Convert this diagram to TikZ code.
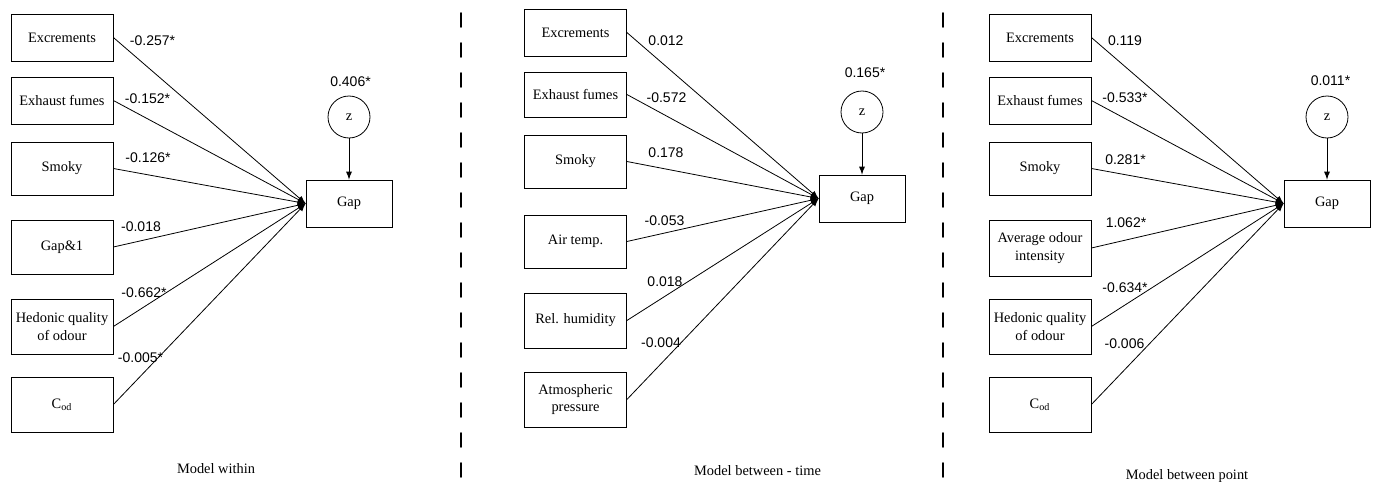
\documentclass[tikz,border=0pt]{standalone}
\usepackage{fontspec}
\setmainfont{Liberation Serif}
\newfontfamily\coeffont{Liberation Sans}

\begin{document}
\begin{tikzpicture}
			[x=0.5pt,y=-0.5pt,line cap=round,
			%Styles
			var/.style={draw,thin,rectangle,minimum width=51pt,minimum height=#1,inner sep=1pt,align=center,font=\fontsize{7.2}{8.6}\selectfont},
			var/.default=23.5pt,
			gapbox/.style={draw,thin,rectangle,minimum width=43pt,minimum height=23.5pt,font=\fontsize{7.2}{8.6}\selectfont},
			err/.style={draw,thin,circle,minimum size=21pt,inner sep=0pt,font=\fontsize{7.2}{8.6}\selectfont},
			effect/.style={thin,-latex},
			coef/.style={inner sep=0pt,font=\coeffont\fontsize{7}{8}\selectfont},
			caption/.style={inner sep=0pt,font=\fontsize{7.2}{8.6}\selectfont},
			divider/.style={line width=0.8pt,dash pattern=on 7pt off 8pt}
			]
			
			\useasboundingbox (0,0) rectangle (1378,482);
			
			%Model within
			\node[var] (exc1) at (62,37.5) {Excrements};
			\node[var] (exh1) at (62,100.5) {Exhaust fumes};
			\node[var=26.5pt] (smo1) at (62,168.5) {Smoky};
			\node[var=27pt] (gpl1) at (62,247) {Gap\&1};
			\node[var=27.5pt] (hed1) at (62,326.5) {Hedonic quality\\of odour};
			\node[var=27.5pt] (cod1) at (62,404.5) {C\textsubscript{od}};
			\node[gapbox] (gap1) at (349,203.5) {Gap};
			\node[err] (z1) at (349,117) {z};
			
			\draw[effect] (z1) -- (gap1);
			\draw[effect] (exc1.east) -- (gap1.west);
			\draw[effect] (exh1.east) -- (gap1.west);
			\draw[effect] (smo1.east) -- (gap1.west);
			\draw[effect] (gpl1.east) -- (gap1.west);
			\draw[effect] (hed1.east) -- (gap1.west);
			\draw[effect] (cod1.east) -- (gap1.west);
			
			\node[coef] (kz1) at (350.5,81.5) {0.406*};
			\node[coef] (kexc1) at (152.5,41) {-0.257*};
			\node[coef] (kexh1) at (147.5,98.5) {-0.152*};
			\node[coef] (ksmo1) at (148,157.5) {-0.126*};
			\node[coef] (kgpl1) at (141,227) {-0.018};
			\node[coef] (khed1) at (144,293) {-0.662*};
			\node[coef] (kcod1) at (140.5,357.5) {-0.005*};
			
			\node[caption] (cap1) at (216,469) {Model within};
			
			\draw[divider] (461,13) -- (461,482);
			
			%Model between - time
			\node[var] (exc2) at (575.5,32.5) {Excrements};
			\node[var=22.5pt] (exh2) at (575.5,94.5) {Exhaust fumes};
			\node[var=26.5pt] (smo2) at (575.5,161.5) {Smoky};
			\node[var=26.5pt] (air2) at (575.5,241.5) {Air temp.};
			\node[var=27.5pt] (rel2) at (575.5,320.5) {Rel. humidity};
			\node[var=27.5pt] (atm2) at (575.5,399.5) {Atmospheric\\pressure};
			\node[gapbox] (gap2) at (862,198.5) {Gap};
			\node[err] (z2) at (862,112) {z};
			
			\draw[effect] (z2) -- (gap2);
			\draw[effect] (exc2.east) -- (gap2.west);
			\draw[effect] (exh2.east) -- (gap2.west);
			\draw[effect] (smo2.east) -- (gap2.west);
			\draw[effect] (air2.east) -- (gap2.west);
			\draw[effect] (rel2.east) -- (gap2.west);
			\draw[effect] (atm2.east) -- (gap2.west);
			
			\node[coef] (kz2) at (865,72.5) {0.165*};
			\node[coef] (kexc2) at (666,41) {0.012};
			\node[coef] (kexh2) at (666.5,97.5) {-0.572};
			\node[coef] (ksmo2) at (666,152.5) {0.178};
			\node[coef] (kair2) at (664.5,221) {-0.053};
			\node[coef] (krel2) at (665,281.5) {0.018};
			\node[coef] (katm2) at (661,342.5) {-0.004};
			
			\node[caption] (cap2) at (757.5,471) {Model between - time};
			
			\draw[divider] (943,13) -- (943,482);
			
			%Model between point
			\node[var] (exc3) at (1040,37.5) {Excrements};
			\node[var] (exh3) at (1040,100.5) {Exhaust fumes};
			\node[var=26.5pt] (smo3) at (1040,168.5) {Smoky};
			\node[var=28pt] (avg3) at (1040,248) {Average odour\\intensity};
			\node[var=27.5pt] (hed3) at (1040,326.5) {Hedonic quality\\of odour};
			\node[var=27.5pt] (cod3) at (1040,404.5) {C\textsubscript{od}};
			\node[gapbox] (gap3) at (1327,203.5) {Gap};
			\node[err] (z3) at (1327,117) {z};
			
			\draw[effect] (z3) -- (gap3);
			\draw[effect] (exc3.east) -- (gap3.west);
			\draw[effect] (exh3.east) -- (gap3.west);
			\draw[effect] (smo3.east) -- (gap3.west);
			\draw[effect] (avg3.east) -- (gap3.west);
			\draw[effect] (hed3.east) -- (gap3.west);
			\draw[effect] (cod3.east) -- (gap3.west);
			
			\node[coef] (kz3) at (1330.5,80.5) {0.011*};
			\node[coef] (kexc3) at (1125,41) {0.119};
			\node[coef] (kexh3) at (1125,98) {-0.533*};
			\node[coef] (ksmo3) at (1125.5,160) {0.281*};
			\node[coef] (kavg3) at (1126,223) {1.062*};
			\node[coef] (khed3) at (1125,287.5) {-0.634*};
			\node[coef] (kcod3) at (1124.5,343.5) {-0.006};
			
			\node[caption] (cap3) at (1187,476) {Model between point};
		\end{tikzpicture}
\end{document}
